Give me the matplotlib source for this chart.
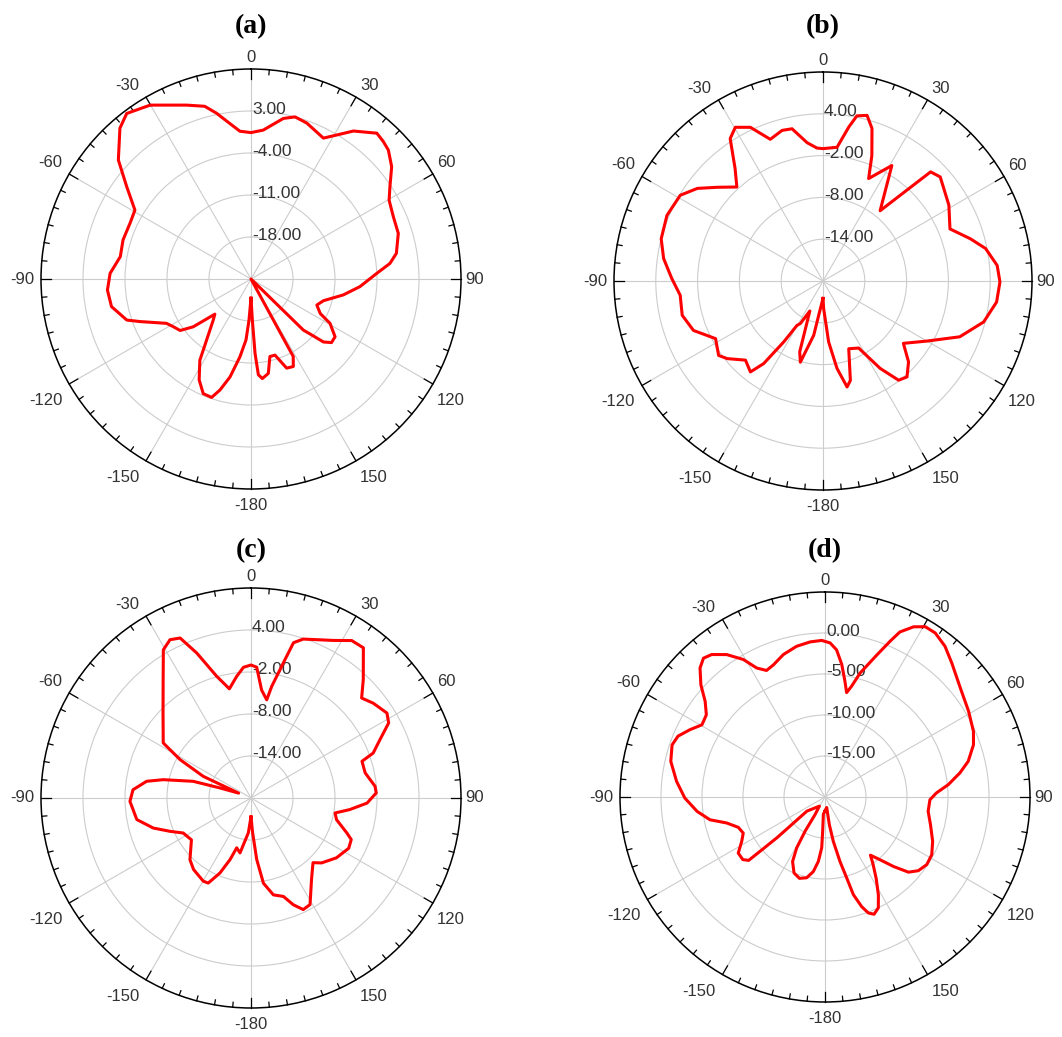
import numpy as np
import matplotlib
matplotlib.use("Agg")
import matplotlib.pyplot as plt
from matplotlib.transforms import offset_copy

# Radiation patterns (angle in deg, gain in dB)

# (a)
a_angle = [-180, -177.2, -175.3, -171.9, -167.9, -164.4, -161.6, -157.4, -152.8, -147.8, -144,
           -137.4, -134.2, -129.6, -126, -121.5, -117.7, -111, -108.3, -101.2, -94.4, -87.7,
           -80.3, -73, -65.3, -59.3, -53.4, -48.1, -41, -36.9, -30.1, -20.3, -15, -11.7, -9.3,
           -4.3, 0, 4.7, 11.4, 15.2, 19.7, 27.2, 30.7, 34.7, 40.8, 43.9, 46.8, 51.4, 56.4,
           60.3, 66.3, 72.8, 80, 83.6, 87.4, 94, 99.8, 106.7, 111.6, 116.5, 119.3, 124.5,
           128.3, 131, 133, 134.3, 142, 151.4, 154.2, 158.2, 162.5, 166.3, 169.6, 173.5,
           175.6, 176.9, 178.1, 180]
a_gain = [-21.8, -18.1, -14.8, -11.9, -8.3, -5.8, -4.2, -4.3, -6.1, -9.0, -12.4,
          -15.7, -16.6, -12.5, -10.4, -9.8, -9.1, -5.2, -3.2, -1.3, -1.0, -1.5,
          -2.9, -2.7, -2.8, -2.5, 0.8, 4.7, 8.3, 9.5, 8.5, 5.9, 4.8, 3.2, 1.9,
          -0.3, -0.6, -0.1, 2.3, 3.0, 2.6, 1.4, 2.9, 5.0, 7.1, 6.8, 6.4, 5.0, 2.8,
          1.5, 0.9, 0.7, -0.4, -1.7, -4.0, -6.8, -9.4, -12.4, -13.2, -12.1, -9.9, -8.0,
          -7.9, -9.0, -11.6, -12.8, -25.0, -10.3, -8.8, -9.0, -11.7, -11.7, -9.0, -8.3,
          -9.0, -12.6, -18.1, -21.8]

# (b)
b_angle = [-180, -172.8, -170.3, -164.4, -161.8, -156.3, -152, -149.6, -147.2, -144.3, -141.4,
           -135.6, -129, -125.5, -118.2, -110.9, -103.7, -95.7, -89.1, -82, -75.4, -67.2,
           -59, -53.6, -48.5, -42.5, -38, -33.1, -29.7, -25.3, -22.2, -20.4, -15.2, -11.5,
           -6.6, -2.6, 0, 6, 9.5, 11.6, 14.9, 17.8, 21.3, 24, 30.8, 39.1, 44.6, 48.4, 58.9,
           67.7, 74, 78.7, 84.9, 90.3, 96.9, 104.3, 112.2, 120.1, 127.8, 133.4, 138.8, 142.7,
           146.8, 152, 159.2, 164.6, 167.2, 170.9, 174.7, 178.6, 180]
b_gain = [-17.5, -15.0, -12.1, -7.9, -9.3, -15.3, -13.1, -12.6, -9.6, -5.4, -3.3,
          -4.1, -2.3, -1.6, -2.5, -0.1, 0.8, 0.6, 1.7, 3.1, 4.0, 4.3,
          3.9, 2.4, 0.3, -1.7, 0.5, 4.4, 5.4, 4.4, 2.6, 1.7, 2.4, 2.3,
          0.0, -0.9, -1.0, -0.7, 2.4, 4.2, 4.6, 3.0, -0.7, -3.9, -0.7, -7.0, 2.0, 2.5, 1.1,
          -0.3, 2.0, 3.8, 5.1, 5.4, 5.1, 3.8, 1.2, -2.8, -5.4, -3.1, -1.7, -2.1,
          -5.0, -9.1, -9.6, -5.2, -4.4, -7.3, -11.2, -16.0, -17.5]

# (c)
c_angle = [-180, -175.6, -170.7, -168.7, -164, -161.2, -157.5, -153.3, -150.2, -141.2, -135.3,
           -125.1, -117.3, -112.4, -107.1, -100.7, -91.6, -86, -80.9, -78.2, -73.9, -72.1,
           -68.5, -65.6, -61.6, -57.9, -45.9, -36.5, -30.6, -27.1, -23.9, -20.5, -15.8, -11.2,
           -6.7, -3.3, 0, 2.5, 5.6, 9.1, 10.5, 13.5, 15.3, 18.2, 27.6, 32.6, 36.8, 43.5, 47.9,
           52.2, 58, 61.4, 65.7, 69.8, 71.7, 77.6, 84.6, 87.7, 92.5, 96.7, 100.1, 104.2, 110.1,
           112.5, 117.2, 125, 132.6, 136.2, 143.4, 151, 154.9, 158.4, 161.8, 167, 171.7, 174.7,
           177.3, 180]
c_gain = [-17.3, -15.0, -13.2, -12.0, -12.6, -10.7, -8.4, -6.4, -6.3, -6.9, -7.6,
          -9.6, -9.1, -7.5, -5.4, -3.4, -2.7, -3.1, -4.9, -7.2, -11.4, -15.3,
          -18.1, -12.5, -8.5, -5.2, -2.5, 1.1, 4.6, 5.4, 5.0, 2.1, -1.9, -4.1,
          -2.5, -1.3, -1.0, -1.3, -4.5, -5.8, -3.8, -0.1, 3.0, 3.9, 5.4, 6.7, 6.8, 3.3, 1.3,
          2.1, 2.9, 2.4, 0.2, -1.4, -3.3, -3.3, -2.2, -2.1, -3.4, -5.8, -7.8, -7.4, -5.4,
          -4.5, -4.3, -5.1, -6.3, -7.2, -5.5, -2.6, -2.4, -3.6, -5.2, -5.8, -7.7, -11.2,
          -15.0, -17.3]

# (d)
d_angle = [-180, -174.6, -176.1, -176.3, -174.1, -171.1, -167.2, -162.6, -157.8, -153.3, -150.9,
           -149.8, -150.5, -148.7, -128, -129.7, -130.3, -129.9, -129.7, -127.3, -122.9, -118,
           -113.8, -109.3, -104.8, -101.2, -96.4, -90.4, -84, -77, -71.2, -67.5, -63.5, -59.6,
           -55.3, -51.4, -47.9, -44.1, -41.2, -38.5, -34.6, -30.7, -27.9, -24.8, -21.3, -16.3,
           -10.7, -5.5, -1.2, 1.9, 4.5, 7.2, 9.8, 11.7, 13.5, 15.8, 20, 22.7, 24.4, 27.5, 30.5,
           33.9, 38.5, 43.4, 51.1, 59.1, 66.1, 70.6, 76, 79.9, 84.3, 87.9, 91.5, 97.9, 104.7,
           112.4, 118.4, 123.6, 128.3, 132, 135.4, 138.7, 142, 144.5, 147.8, 151.4, 154.3,
           157.3, 159.5, 161.5, 163.8, 165, 166.9, 169.4, 171.1, 170.8, 180]
d_gain = [-18.3, -17.9, -15.8, -13.8, -12.1, -10.8, -9.9, -9.6, -10.0, -11.2, -12.9,
          -15.2, -17.5, -18.7, -17.2, -14.7, -12.4, -9.7, -7.9, -7.4, -7.4, -8.5,
          -9.1, -8.8, -7.6, -5.7, -4.3, -2.9, -1.8, -0.7, -0.3, -0.6, -1.6, -2.6,
          -2.4, -1.3, 0.4, 1.9, 2.5, 2.2, 1.1, -0.5, -2.2, -3.0, -2.7, -1.9,
          -1.3, -1.0, -0.9, -1.2, -2.0, -3.7, -5.7, -7.0, -6.1, -4.3, -1.6, 0.6, 2.1, 3.4, 4.1,
          4.1, 3.5, 2.5, 1.2, 0.4, -0.2, -0.8, -2.0, -3.3, -4.9, -6.4, -7.2, -7.3, -6.7,
          -5.8, -5.2, -5.1, -5.5, -6.3, -8.1, -9.8, -11.0, -9.9, -8.3, -6.4, -5.0,
          -4.5, -4.9, -5.9, -7.6, -9.8, -11.9, -14.5, -16.6, -18.7, -18.3]

# panel label, data, radial range, ring ticks, centre (px), radius (px), title y (px)
panels = [
    ("(a)", a_angle, a_gain, -25, 10, [-18, -11, -4, 3], (251, 279), 210, 27),
    ("(b)", b_angle, b_gain, -20, 10, [-14, -8, -2, 4], (823, 281), 209, 27),
    ("(c)", c_angle, c_gain, -20, 10, [-14, -8, -2, 4], (251, 798), 210, 551),
    ("(d)", d_angle, d_gain, -20, 5, [-15, -10, -5, 0], (825, 797), 205, 551),
]

W, H = 1062, 1037
fig = plt.figure(figsize=(W / 100, H / 100), dpi=100)
lab_col = "#333333"

for title, ang, gain, rmin, rmax, rings, (cx, cy), R, ty in panels:
    ax = fig.add_axes([(cx - R) / W, (H - cy - R) / H, 2 * R / W, 2 * R / H],
                      projection="polar")
    ax.set_theta_zero_location("N")
    ax.set_theta_direction(-1)
    ax.set_ylim(rmin, rmax)

    # gray spokes and rings
    ax.set_xticks(np.deg2rad(np.arange(0, 360, 30)))
    ax.set_xticklabels([])
    ax.set_yticks(rings)
    ax.set_yticklabels([])
    ax.tick_params(length=0)
    ax.grid(color="#cccccc", lw=0.8)
    ax.spines["polar"].set_linewidth(1.1)

    # tick marks around the outer circle
    for a in range(0, 360, 5):
        L = 10 if a % 30 == 0 else 5
        dr = L / R * (rmax - rmin)
        ax.plot([np.deg2rad(a)] * 2, [rmax - dr, rmax], color="k", lw=0.9,
                clip_on=False, zorder=4)

    # angle labels
    for a in range(-180, 180, 30):
        t = np.deg2rad(a)
        s, c = np.sin(t), np.cos(t)
        if abs(s) < 0.01:
            ha, dx = "center", 0
        elif s > 0:
            ha, dx = "left", 4
        else:
            ha, dx = "right", -7
        if abs(c) < 0.01:
            va, dy = "center", 0
        elif c > 0:
            va, dy = "bottom", 4
        else:
            va, dy = "top", -9
        tr = offset_copy(ax.transData, fig=fig, x=dx, y=dy, units="dots")
        ax.text(t, rmax, str(a), transform=tr, ha=ha, va=va, fontsize=12,
                color=lab_col, family="Liberation Sans", clip_on=False)

    # ring labels
    tr = offset_copy(ax.transData, fig=fig, x=1, y=2, units="dots")
    for rv in rings:
        ax.text(0, rv, "%.2f" % rv, transform=tr, ha="left", va="center",
                fontsize=12.5, color=lab_col, family="Liberation Sans", zorder=2)

    ax.plot(np.deg2rad(ang), gain, color="#ff0000", lw=2.2, zorder=5)

    fig.text(cx / W, 1 - ty / H, title, ha="center", va="center", fontsize=20,
             fontweight="bold", family="Liberation Serif")

fig.savefig("out.png", dpi=100)
